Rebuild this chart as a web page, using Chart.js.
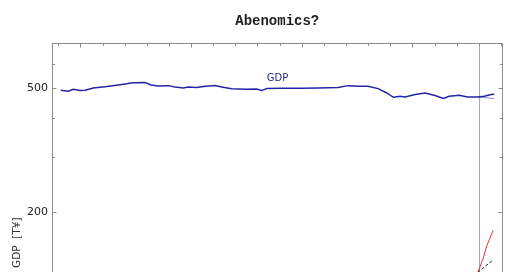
<!DOCTYPE html>
<html>
<head>
<meta charset="utf-8">
<script src="https://cdn.jsdelivr.net/npm/chart.js@4"></script>
<style>
html,body{margin:0;padding:0;background:#fff;overflow:hidden;}
#clip{width:520px;height:272px;overflow:hidden;position:relative;}
#box{width:520px;height:480px;position:relative;}
</style>
</head>
<body>
<div id="clip"><div id="box"><canvas id="c"></canvas></div></div>
<script>
// ---- data ----
const gdpYears = [1994.11,1994.45,1994.68,1994.98,1995.21,1995.58,1996.19,1996.79,1997.38,1997.92,
  1998.19,1998.52,1998.97,1999.27,1999.65,1999.87,2000.25,2000.55,2001.08,2001.38,
  2001.83,2002.51,2002.96,2003.19,2003.42,2004.09,2005.0,2005.74,2006.64,2007.09,
  2007.54,2007.99,2008.45,2008.84,2009.14,2009.44,2009.67,2010.12,2010.57,2011.02,
  2011.40,2011.66,2012.12,2012.49,2012.94,2013.25,2013.55,2013.70];
const gdpValues = [492.7,489.0,496.7,492.0,492.7,501.0,506.3,513.0,520.6,521.8,
  512.3,508.2,510.0,504.8,500.7,504.4,502.6,506.7,510.8,504.8,
  498.2,496.3,497.4,491.6,498.9,500.0,500.0,501.1,502.6,510.0,
  507.5,507.5,498.9,482.9,467.8,471.2,468.8,477.2,482.9,473.7,
  463.3,471.2,474.6,468.8,468.8,471.2,477.2,478.0];
const trendYears = [2012.94, 2013.70];
const trendValues = [468.8, 463.5];
const redYears = [2012.95, 2013.0, 2013.2, 2013.35, 2013.5, 2013.65];
const redValues = [128.0, 129.9, 141.6, 154.7, 164.2, 174.2];
const dashYears = [2012.95, 2013.65];
const dashValues = [127.5, 139.7];
const abenomicsStart = 2013;
const yTickValues = [40,50,60,70,80,90,100,200,300,400,500,600,700];
const yTickLabels = [50,100,200,500];
const xTickYears = [1994,1995,1996,1997,1998,1999,2000,2001,2002,2003,2004,2005,2006,2007,2008,2009,2010,2011,2012,2013,2014];
const xTickLabels = [1995,2000,2005,2010];
const gdpLabel = {text:'GDP', year:2003.9, value:538};

const pts = (xs, ys) => xs.map((x,i)=>({x:x, y:ys[i]}));

const decor = {
  id:'decor',
  beforeDatasetsDraw(chart){
    const {ctx, chartArea:a, scales:{x}} = chart;
    const gx = Math.round(x.getPixelForValue(abenomicsStart)) + 0.5;
    ctx.save();
    ctx.strokeStyle = '#aaaaaa'; ctx.lineWidth = 1;
    ctx.beginPath(); ctx.moveTo(gx, a.top); ctx.lineTo(gx, a.bottom); ctx.stroke();
    ctx.restore();
  },
  afterDatasetsDraw(chart){
    const {ctx, chartArea:a, scales:{x,y}} = chart;
    ctx.save();
    const L = Math.round(a.left)+0.5, R = Math.round(a.right)-0.5, T = Math.round(a.top)+0.5, B = Math.round(a.bottom)-0.5;
    ctx.strokeStyle = '#8c8c8c'; ctx.lineWidth = 1;
    ctx.strokeRect(L, T, R-L, B-T);
    ctx.beginPath();
    yTickValues.forEach(v=>{
      const py = Math.round(y.getPixelForValue(v))+0.5;
      const len = yTickLabels.includes(v) ? 4 : 2.5;
      ctx.moveTo(L, py); ctx.lineTo(L+len, py);
      ctx.moveTo(R, py); ctx.lineTo(R-len, py);
    });
    xTickYears.forEach(v=>{
      const px = Math.round(x.getPixelForValue(v))+0.5;
      const len = xTickLabels.includes(v) ? 4 : 2.5;
      ctx.moveTo(px, T); ctx.lineTo(px, T+len);
      ctx.moveTo(px, B); ctx.lineTo(px, B-len);
    });
    ctx.stroke();
    // series label
    ctx.fillStyle = '#24249c';
    ctx.font = '10px "DejaVu Sans"';
    ctx.textAlign = 'center'; ctx.textBaseline = 'middle';
    ctx.fillText(gdpLabel.text, x.getPixelForValue(gdpLabel.year), y.getPixelForValue(gdpLabel.value));
    ctx.restore();
  }
};

new Chart(document.getElementById('c'), {
  type:'line',
  data:{
    datasets:[
      {label:'GDP', data:pts(gdpYears,gdpValues), borderColor:'#2424a4', borderWidth:1.5, pointRadius:0, tension:0},
      {label:'trend', data:pts(trendYears,trendValues), borderColor:'#8a8ad8', borderWidth:1, pointRadius:0, tension:0},
      {label:'red', data:pts(redYears,redValues), borderColor:'#e03434', borderWidth:1, pointRadius:0, tension:0},
      {label:'target', data:pts(dashYears,dashValues), borderColor:'#222222', borderWidth:1, borderDash:[3,2], pointRadius:0, tension:0}
    ]
  },
  options:{
    responsive:true, maintainAspectRatio:false, animation:false,
    layout:{padding:{left:0, right:17.5, top:0, bottom:0}},
    plugins:{
      legend:{display:false}, tooltip:{enabled:false},
      title:{display:true, text:'Abenomics?', fullSize:false, color:'#222',
        font:{family:'"Liberation Mono"', size:14, weight:'bold', lineHeight:1.2},
        padding:{top:13, bottom:13.2}}
    },
    scales:{
      x:{type:'linear', min:1993.715, max:2014.07,
        afterBuildTicks(s){ s.ticks = xTickYears.map(v=>({value:v})); },
        afterFit(s){ s.height = 37.5; },
        grid:{display:false, drawTicks:false}, border:{display:false},
        ticks:{color:'#222', font:{family:'"DejaVu Sans"', size:10.5}, padding:6, maxRotation:0, autoSkip:false,
          callback:(v)=> xTickLabels.includes(v) ? String(v) : ''}
      },
      y:{type:'logarithmic', min:36, max:700,
        afterBuildTicks(s){ s.ticks = yTickValues.map(v=>({value:v})); },
        afterFit(s){ s.width = 52; },
        grid:{display:false, drawTicks:false}, border:{display:false},
        ticks:{color:'#222', font:{family:'"DejaVu Sans"', size:11}, padding:4, autoSkip:false,
          callback:(v)=> yTickLabels.includes(v) ? String(v) : ''},
        title:{display:true, text:'GDP  [T¥]', color:'#333', font:{family:'"DejaVu Sans"', size:10.5, lineHeight:1.2}, padding:{top:11, bottom:0}}
      }
    }
  },
  plugins:[decor]
});
</script>
</body>
</html>
